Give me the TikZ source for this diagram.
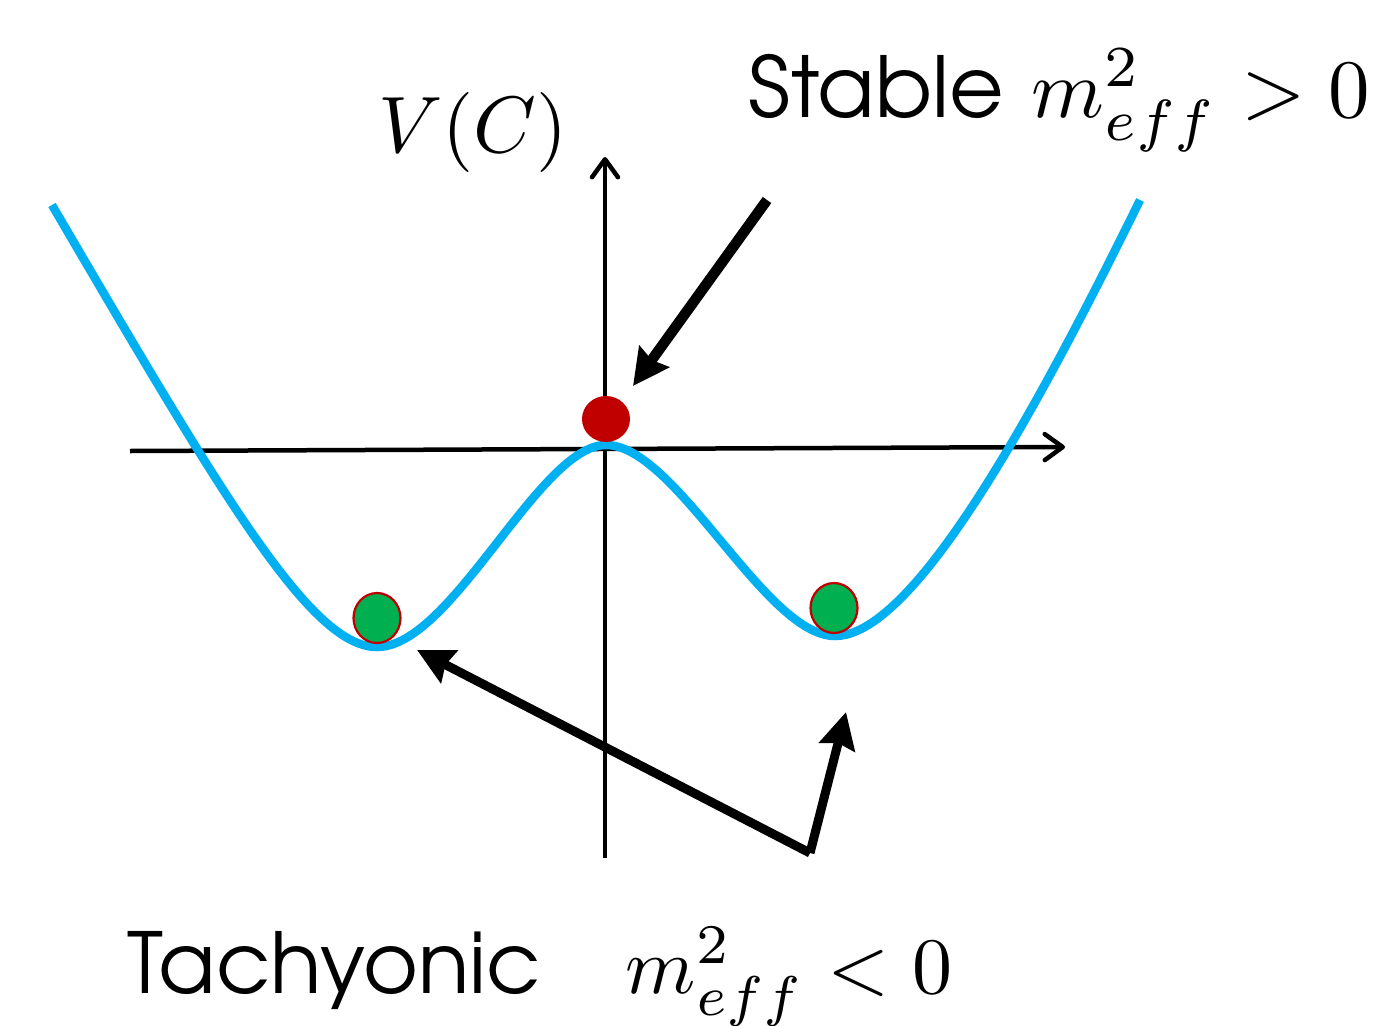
\documentclass[tikz,border=0pt]{standalone}
\usepackage{fontspec}
\newfontfamily\gothic{TeX Gyre Adventor}
\usetikzlibrary{arrows.meta,shapes.geometric}
\definecolor{curvecol}{HTML}{00B0F0}
\definecolor{ballred}{HTML}{C00000}
\definecolor{ballgreen}{HTML}{00B050}
\tikzset{
  axisline/.style={line width=4.5pt, -{Straight Barb[length=18pt,width=26pt,line cap=round,line join=round]}},
  pointer/.style={line width=10.5pt, -{Stealth[length=36pt,width=36pt,inset=4pt]}},
  potential/.style={curvecol, line width=8.5pt},
  greenball/.style={ellipse, inner sep=0pt, minimum width=47pt, minimum height=50pt, fill=ballgreen, draw=ballred, line width=2.2pt},
  redball/.style={ellipse, inner sep=0pt, minimum width=48pt, minimum height=46pt, fill=ballred},
  lbl/.style={anchor=base west, inner sep=0pt}
}
\begin{document}
\begin{tikzpicture}[x=1pt,y=-1pt]
\useasboundingbox (0,0) rectangle (1375,1025);
% axes
\coordinate (xs) at (130,451);
\coordinate (xe) at (1065,447);
\coordinate (ys) at (605,858);
\coordinate (ye) at (605,157);
\draw[axisline] (xs) -- (xe);
\draw[axisline] (ys) -- (ye);
% potential
\coordinate (p0) at (52,205);
\coordinate (m1) at (377,647);
\coordinate (top0) at (606,445);
\coordinate (m2) at (835,636);
\coordinate (p1) at (1140,200);
\draw[potential] (p0) .. controls (224,499) and (311,647) .. (m1)
  .. controls (452,647) and (539,445) .. (top0)
  .. controls (676,445) and (765,636) .. (m2)
  .. controls (910,636) and (1024.5,435.5) .. (p1);
% balls
\node[redball] (top) at (606,419) {};
\node[greenball] (lmin) at (377,618) {};
\node[greenball] (rmin) at (834,608) {};
% labels
\node[lbl] (vlabel) at (378,152) {\scalebox{8.0}{$V(C)$}};
\node[lbl] (stable) at (748,117) {\scalebox{8.4}{\gothic Stable}\hspace{28pt}\scalebox{8.3}{$m^2_{eff} > 0$}};
\node[lbl] (tach) at (127,993) {\scalebox{8.4}{\gothic Tachyonic}\hspace{85pt}\scalebox{8.0}{$m^2_{eff} < 0$}};
% pointers
\coordinate (sstart) at (767,200);
\coordinate (stip) at (633,386);
\draw[pointer] (sstart) -- (stip);
\coordinate (tc) at (810,853);
\coordinate (ltip) at (417,650);
\coordinate (rtip) at (846,712);
\draw[pointer, line width=9pt] (tc) -- (ltip);
\draw[pointer, line width=9pt] (tc) -- (rtip);
\end{tikzpicture}
\end{document}
